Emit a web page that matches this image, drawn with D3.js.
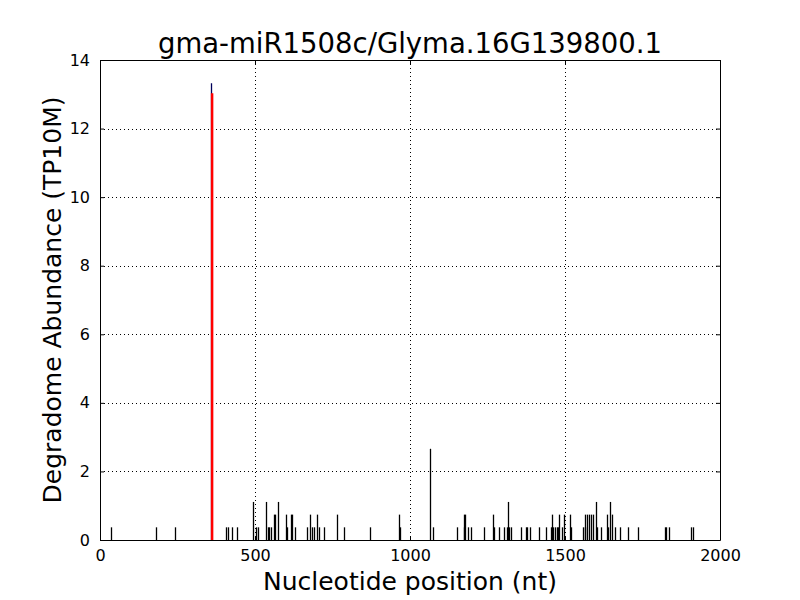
<!DOCTYPE html>
<html>
<head>
<meta charset="utf-8">
<script src="https://cdn.jsdelivr.net/npm/d3@7"></script>
<style>
body { margin: 0; background: #fff; }
text { font-family: "DejaVu Sans", sans-serif; }
</style>
</head>
<body>
<div id="chart"></div>
<script>
'use strict';

// degradome reads: position (nt) and abundance (TP10M)
const positions = [34, 181, 243, 359, 407, 414, 425, 443, 495, 503, 509, 537, 541, 545, 550, 562, 566, 573,
	600, 603, 617, 620, 629, 668, 676, 683, 689, 700, 705, 723, 763, 788, 871, 966, 969,
	1065, 1075, 1153, 1173, 1175, 1178, 1186, 1198, 1240, 1267, 1270, 1287, 1303,
	1312, 1315, 1318, 1326, 1357, 1373, 1379, 1386, 1417, 1440, 1454, 1459, 1462, 1468, 1474, 1478,
	1482, 1489, 1496, 1516, 1520, 1557, 1563, 1566, 1572, 1578, 1584, 1589, 1599, 1603, 1617,
	1635, 1640, 1646, 1652, 1661, 1677, 1702, 1737, 1823, 1827, 1835, 1906, 1912];
const abundance = [0.37, 0.37, 0.37, 13.32, 0.37, 0.37, 0.37, 0.37, 1.11, 0.37, 0.37, 1.11, 0.37, 0.37, 0.37, 0.74, 0.74, 1.11,
	0.74, 0.37, 0.74, 0.74, 0.37, 0.37, 0.74, 0.37, 0.37, 0.74, 0.37, 0.37, 0.74, 0.37, 0.37, 0.74, 0.37,
	2.66, 0.37, 0.37, 0.37, 0.74, 0.74, 0.37, 0.37, 0.37, 0.74, 0.37, 0.37, 0.37,
	0.37, 1.11, 0.37, 0.37, 0.37, 0.37, 0.37, 0.37, 0.37, 0.37, 0.37, 0.74, 0.37, 0.37, 0.37, 0.37,
	0.74, 0.37, 0.74, 0.74, 0.37, 0.37, 0.37, 0.74, 0.74, 0.74, 0.74, 0.74, 1.11, 0.37, 0.37,
	0.74, 0.37, 1.11, 0.74, 0.37, 0.37, 0.37, 0.37, 0.37, 0.37, 0.37, 0.37, 0.37];

// predicted cleavage site
const sitePos = 360;
const siteValue = 13.03;

const xTicks = [0, 500, 1000, 1500, 2000];
const yTicks = [0, 2, 4, 6, 8, 10, 12, 14];

const width = 800, height = 600;
const margin = { top: 60, right: 80, bottom: 60, left: 100 };
const w = width - margin.left - margin.right;
const h = height - margin.top - margin.bottom;

const svg = d3.select("#chart")
	.append("svg")
		.attr("width", width)
		.attr("height", height);

const bounds = svg.append("g")
	.attr("transform", `translate(${margin.left},${margin.top})`);

const xScale = d3.scaleLinear().domain([0, 2000]).range([0, w]);
const yScale = d3.scaleLinear().domain([0, 14]).range([h, 0]);

// grid
bounds.append("g")
	.selectAll("line")
	.data(xTicks.slice(1, -1))
	.join("line")
		.attr("x1", d => Math.round(xScale(d)) + 0.5)
		.attr("x2", d => Math.round(xScale(d)) + 0.5)
		.attr("y1", 0)
		.attr("y2", h)
		.attr("stroke", "#000")
		.attr("stroke-dasharray", "1,3");
bounds.append("g")
	.selectAll("line")
	.data(yTicks.slice(1, -1))
	.join("line")
		.attr("x1", 0)
		.attr("x2", w)
		.attr("y1", d => Math.round(yScale(d)) + 0.5)
		.attr("y2", d => Math.round(yScale(d)) + 0.5)
		.attr("stroke", "#000")
		.attr("stroke-dasharray", "1,3");

// bars as thin vertical lines
const data = positions.map((p, i) => ({ pos: p, val: abundance[i] }));
bounds.append("g")
	.selectAll("line")
	.data(data)
	.join("line")
		.attr("x1", d => Math.round(xScale(d.pos)) + 0.5)
		.attr("x2", d => Math.round(xScale(d.pos)) + 0.5)
		.attr("y1", h)
		.attr("y2", d => yScale(d.val))
		.attr("stroke", d => d.pos === 359 ? "#00005a" : "#000")
		.attr("stroke-width", 1.3);

// cleavage site marker
bounds.append("line")
	.attr("x1", xScale(sitePos) + 0.5)
	.attr("x2", xScale(sitePos) + 0.5)
	.attr("y1", h)
	.attr("y2", yScale(siteValue))
	.attr("stroke", "#ff0000")
	.attr("stroke-width", 2.5);

// axes, classic style: ticks inside on all four sides
const xBottom = bounds.append("g")
	.attr("transform", `translate(0,${h})`)
	.call(d3.axisBottom(xScale).tickValues(xTicks).tickFormat(d3.format("d"))
		.tickSizeInner(-4).tickSizeOuter(0).tickPadding(10));
const xTop = bounds.append("g")
	.call(d3.axisTop(xScale).tickValues(xTicks).tickSizeInner(-4).tickSizeOuter(0).tickFormat(""));
const yLeft = bounds.append("g")
	.call(d3.axisLeft(yScale).tickValues(yTicks).tickSizeInner(-4).tickSizeOuter(0).tickPadding(10));
const yRight = bounds.append("g")
	.attr("transform", `translate(${w},0)`)
	.call(d3.axisRight(yScale).tickValues(yTicks).tickSizeInner(-4).tickSizeOuter(0).tickFormat(""));

[xBottom, xTop, yLeft, yRight].forEach(a => {
	a.select(".domain").attr("stroke", "#000");
	a.selectAll("text")
		.attr("font-size", 16)
		.attr("fill", "#000")
		.style("font-family", "'DejaVu Sans', sans-serif");
});

// titles
svg.append("text")
	.attr("x", margin.left + w / 2)
	.attr("y", 53)
	.attr("text-anchor", "middle")
	.attr("font-size", 27.5)
	.text("gma-miR1508c/Glyma.16G139800.1");

svg.append("text")
	.attr("x", margin.left + w / 2)
	.attr("y", 590)
	.attr("text-anchor", "middle")
	.attr("font-size", 25)
	.text("Nucleotide position (nt)");

svg.append("text")
	.attr("transform", `translate(61,${margin.top + h / 2}) rotate(-90)`)
	.attr("text-anchor", "middle")
	.attr("font-size", 25)
	.text("Degradome Abundance (TP10M)");
</script>
</body>
</html>
